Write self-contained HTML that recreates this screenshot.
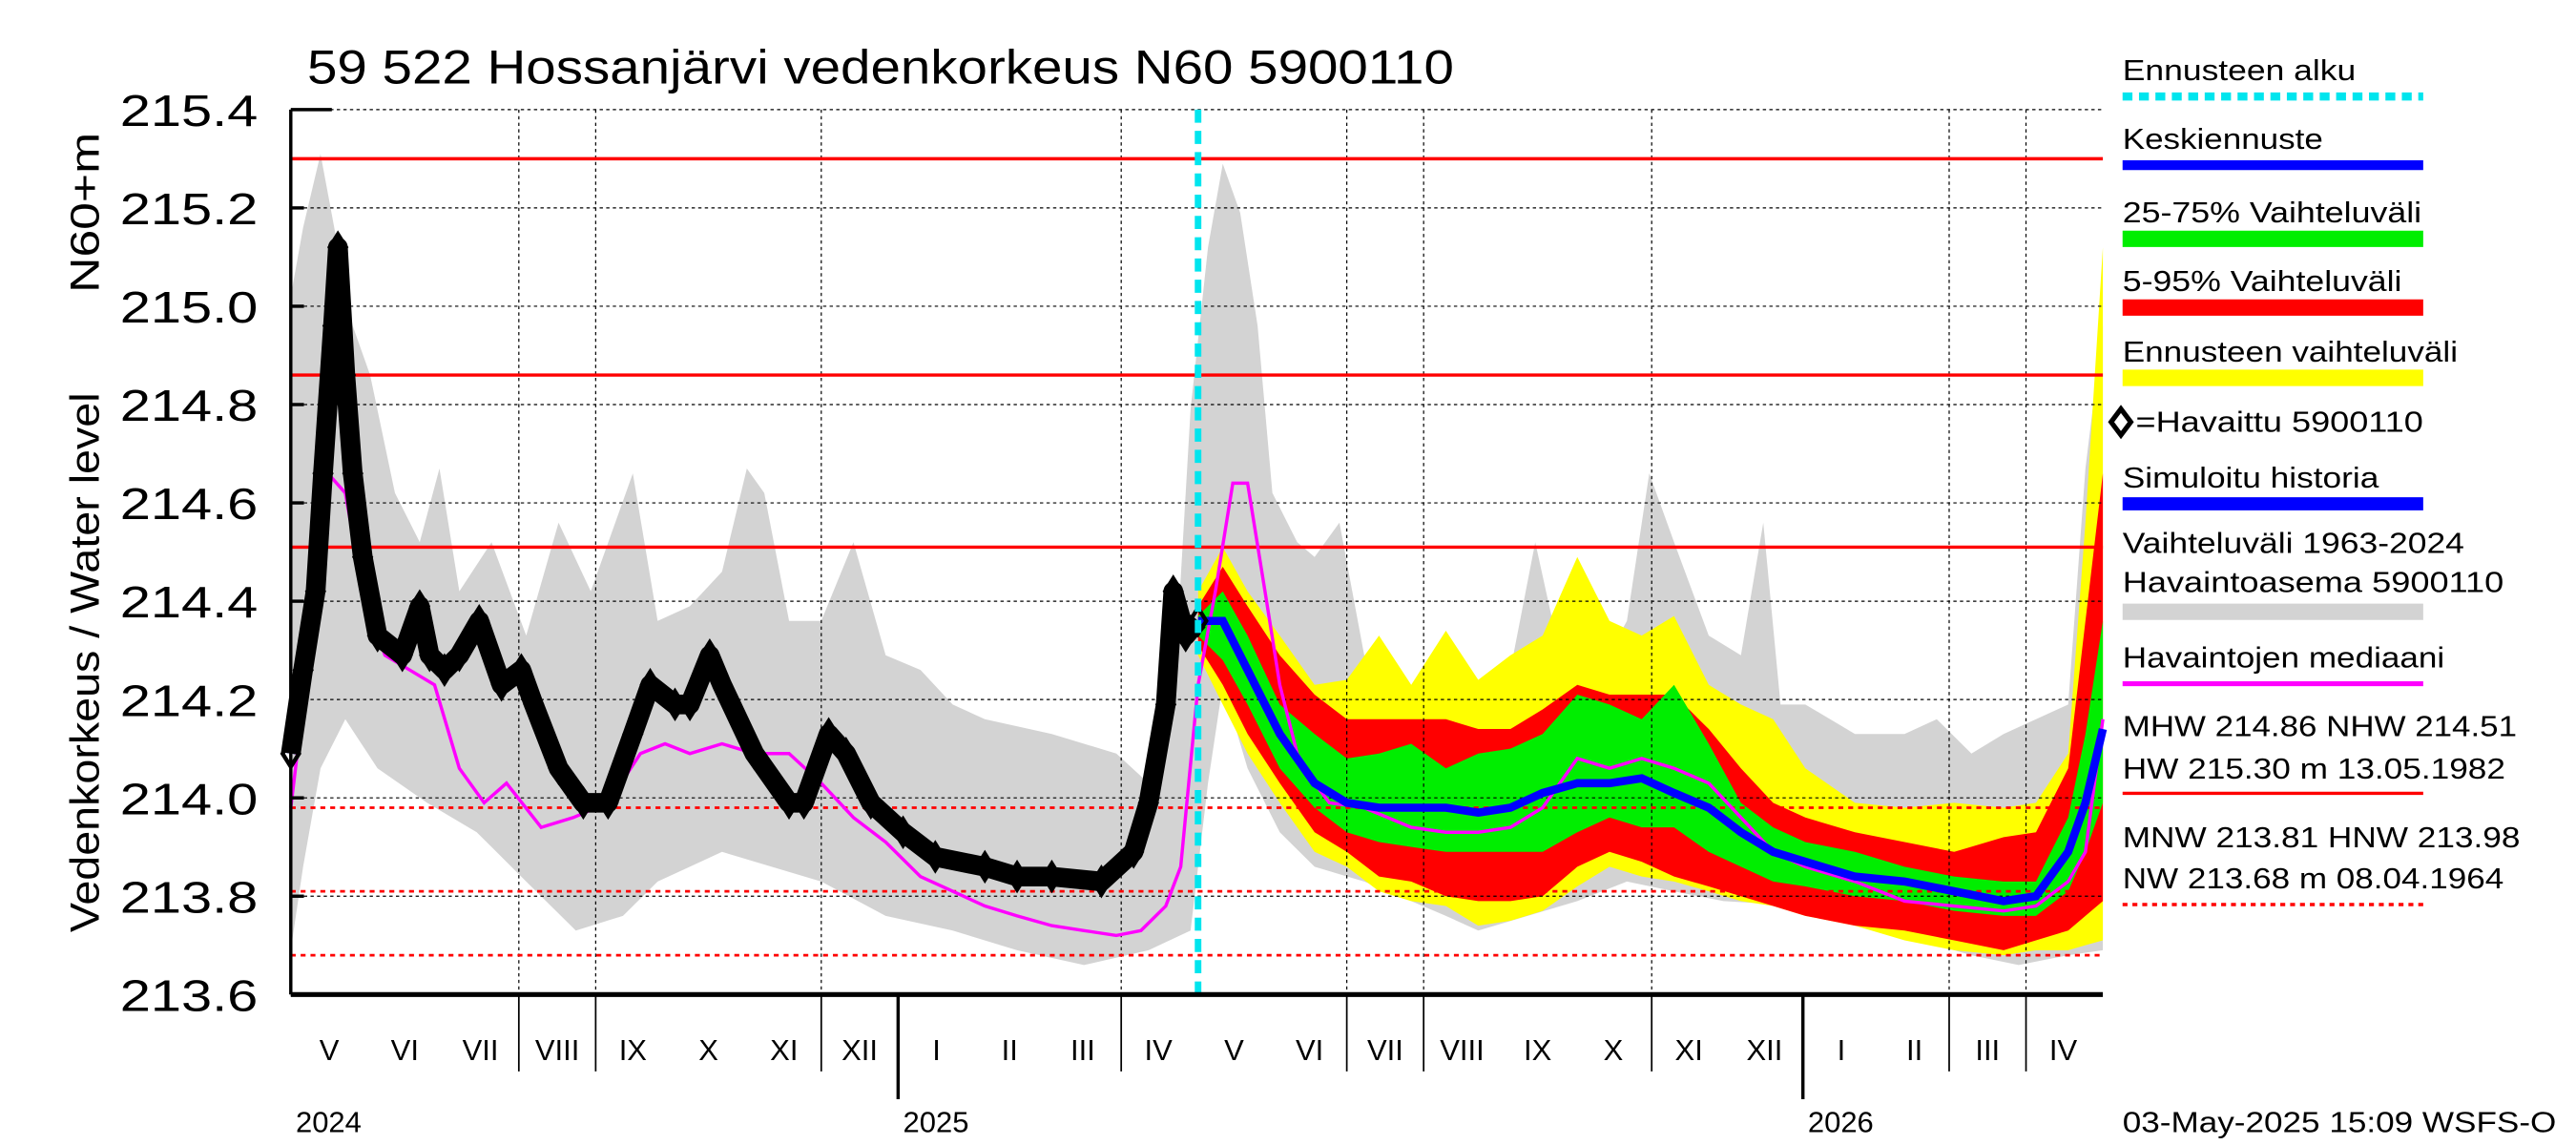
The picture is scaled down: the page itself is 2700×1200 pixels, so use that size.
<!DOCTYPE html>
<html><head><meta charset="utf-8"><style>
html,body{margin:0;padding:0;background:#fff}
svg{display:block}
text{font-family:"Liberation Sans",sans-serif;fill:#000}
</style></head><body>
<svg id="chart" width="2700" height="1200" viewBox="0 0 1568 700" preserveAspectRatio="none" xmlns="http://www.w3.org/2000/svg">
<rect x="0" y="0" width="1568" height="700" fill="#fff"/>
<g id="plot"></g>
<text x="187" y="51" font-size="29" textLength="698" lengthAdjust="spacingAndGlyphs">59 522 Hossanjärvi vedenkorkeus N60 5900110</text>
<text transform="translate(60,405) rotate(-90)" font-size="25" text-anchor="middle" textLength="330" lengthAdjust="spacingAndGlyphs">Vedenkorkeus / Water level</text>
<text transform="translate(60,130) rotate(-90)" font-size="25" text-anchor="middle" textLength="98" lengthAdjust="spacingAndGlyphs">N60+m</text>
<g id="legend"></g>
<text x="1292" y="692" font-size="18" textLength="264" lengthAdjust="spacingAndGlyphs">03-May-2025 15:09 WSFS-O</text>
</svg>
<script>
// x domain: days since 1 May 2024
const yTicks = [213.6, 213.8, 214.0, 214.2, 214.4, 214.6, 214.8, 215.0, 215.2, 215.4];
const yTickLabels = ["213.6","213.8","214.0","214.2","214.4","214.6","214.8","215.0","215.2","215.4"];
const monthLabels = ["V","VI","VII","VIII","IX","X","XI","XII","I","II","III","IV","V","VI","VII","VIII","IX","X","XI","XII","I","II","III","IV"];
const monthStartDays = [0,31,61,92,123,153,184,214,245,276,304,335,365,396,426,457,488,518,549,579,610,641,669,700,730];
const gridDays = [92,123,214,335,426,457,549,669,700];
const yearDays = [245,610];
const yearLabels = ["2024","2025","2026"];
const yearLabelDays = [2,247,612];
const forecastStartDay = 366;
const refSolid = [215.30, 214.86, 214.51];
const refDashed = [213.98, 213.81, 213.68];

const histUpperDays = [0,5,12,19,25,32,42,52,60,68,81,95,108,121,138,148,161,174,184,191,201,214,227,240,254,267,280,307,333,346,356,363,370,376,383,390,396,406,413,423,433,442,452,466,479,492,502,512,525,539,548,558,572,585,594,601,611,631,651,664,678,691,704,717,724,731];
const histUpper = [215.02,215.16,215.31,215.12,214.96,214.86,214.62,214.52,214.67,214.42,214.52,214.33,214.56,214.42,214.66,214.36,214.39,214.46,214.67,214.62,214.36,214.36,214.52,214.29,214.26,214.19,214.16,214.13,214.09,214.03,214.19,214.79,215.12,215.29,215.19,214.96,214.62,214.52,214.49,214.56,214.29,214.23,214.19,214.29,214.19,214.26,214.52,214.29,214.23,214.36,214.66,214.52,214.33,214.29,214.56,214.19,214.19,214.13,214.13,214.16,214.09,214.13,214.16,214.19,214.67,214.96];
const histLowerDays = [0,5,12,22,35,55,75,95,115,134,148,161,174,194,214,240,267,293,320,346,363,370,376,386,399,413,433,452,466,479,499,519,539,558,578,611,644,678,697,717,731];
const histLower = [213.69,213.86,214.06,214.16,214.06,213.99,213.93,213.83,213.73,213.76,213.83,213.86,213.89,213.86,213.83,213.76,213.73,213.69,213.66,213.69,213.73,214.03,214.23,214.06,213.93,213.86,213.83,213.79,213.76,213.73,213.76,213.79,213.83,213.81,213.79,213.78,213.73,213.68,213.66,213.68,213.69];

const medianDays = [0,9,15,22,29,38,48,58,68,78,87,101,114,128,141,151,161,174,187,201,214,227,240,254,267,280,293,307,320,333,343,353,359,366,373,380,386,393,399,406,413,419,433,452,466,479,492,505,519,532,545,558,572,585,598,611,631,651,671,691,704,717,724,731];
const medianVals = [213.98,214.36,214.66,214.62,214.42,214.29,214.26,214.23,214.06,213.99,214.03,213.94,213.96,213.99,214.09,214.11,214.09,214.11,214.09,214.09,214.03,213.96,213.91,213.84,213.81,213.78,213.76,213.74,213.73,213.72,213.73,213.78,213.86,214.23,214.42,214.64,214.64,214.42,214.23,214.09,214.03,213.99,213.98,213.94,213.93,213.93,213.94,213.98,214.08,214.06,214.08,214.06,214.03,213.96,213.89,213.86,213.83,213.79,213.78,213.77,213.78,213.83,213.89,214.16];

const obsDays = [0,5,10,13,17,19,22,25,29,35,45,52,56,62,68,76,85,93,98,108,118,128,138,145,155,161,169,174,187,201,207,217,224,234,247,260,280,293,307,327,340,346,353,356,361,366];
const obsVals = [214.09,214.26,214.42,214.66,214.96,215.12,214.86,214.66,214.49,214.33,214.29,214.39,214.29,214.26,214.29,214.36,214.23,214.26,214.19,214.06,213.99,213.99,214.13,214.23,214.19,214.19,214.29,214.23,214.09,213.99,213.99,214.13,214.09,213.99,213.93,213.88,213.86,213.84,213.84,213.83,213.89,213.99,214.19,214.42,214.33,214.36];

const fcDays = [366,376,386,399,413,426,439,452,466,479,492,505,519,532,545,558,572,585,598,611,631,651,671,691,704,717,724,731];
const fcMedian = [214.36,214.36,214.26,214.13,214.03,213.99,213.98,213.98,213.98,213.97,213.98,214.01,214.03,214.03,214.04,214.01,213.98,213.93,213.89,213.87,213.84,213.83,213.81,213.79,213.80,213.89,213.99,214.14];
const fcP75 = [214.37,214.42,214.33,214.19,214.13,214.08,214.09,214.11,214.06,214.09,214.10,214.13,214.21,214.19,214.16,214.23,214.11,213.99,213.94,213.91,213.89,213.86,213.84,213.83,213.83,213.96,214.13,214.36];
const fcP25 = [214.33,214.28,214.19,214.06,213.98,213.93,213.91,213.90,213.89,213.89,213.89,213.89,213.93,213.96,213.94,213.94,213.89,213.86,213.83,213.82,213.80,213.79,213.77,213.76,213.76,213.81,213.89,213.99];
const fcP95 = [214.39,214.47,214.39,214.29,214.21,214.16,214.16,214.16,214.16,214.14,214.14,214.18,214.23,214.21,214.21,214.21,214.14,214.06,213.99,213.96,213.93,213.91,213.89,213.92,213.93,214.06,214.36,214.66];
const fcP05 = [214.31,214.23,214.13,214.03,213.93,213.89,213.84,213.83,213.80,213.79,213.79,213.80,213.86,213.89,213.87,213.84,213.82,213.80,213.78,213.76,213.74,213.73,213.71,213.69,213.71,213.73,213.76,213.79];
const fcMax = [214.42,214.51,214.42,214.33,214.23,214.24,214.33,214.23,214.34,214.24,214.29,214.33,214.49,214.36,214.33,214.37,214.23,214.19,214.16,214.06,213.99,213.98,213.99,213.98,213.99,214.09,214.56,215.12];
const fcMin = [214.29,214.19,214.09,213.99,213.89,213.86,213.81,213.79,213.78,213.74,213.75,213.77,213.82,213.86,213.84,213.83,213.81,213.79,213.78,213.76,213.74,213.71,213.69,213.68,213.69,213.69,213.70,213.71];

const X0 = 177, X1 = 1280, Y0 = 608, Y1 = 67;
const D0 = 0, D1 = 731, V0 = 213.6, V1 = 215.4;
function xs(d){ return X0 + (d - D0) / (D1 - D0) * (X1 - X0); }
function ys(v){ return Y0 - (v - V0) / (V1 - V0) * (Y0 - Y1); }
const NS = "http://www.w3.org/2000/svg";
const plot = document.getElementById('plot');
const legend = document.getElementById('legend');
function mk(tag, attrs, parent){
  const e = document.createElementNS(NS, tag);
  for (const k in attrs) e.setAttribute(k, attrs[k]);
  (parent || plot).appendChild(e);
  return e;
}
function linePts(days, vals){ return days.map((d,i)=>xs(d).toFixed(1)+","+ys(vals[i]).toFixed(1)).join(" "); }
function bandPts(du, vu, dl, vl){
  const a = du.map((d,i)=>xs(d).toFixed(1)+","+ys(vu[i]).toFixed(1));
  const b = dl.map((d,i)=>xs(d).toFixed(1)+","+ys(vl[i]).toFixed(1)).reverse();
  return a.concat(b).join(" ");
}

let e = mk('polygon', {points: bandPts(histUpperDays, histUpper, histLowerDays, histLower), fill:'#d3d3d3'});



e = mk('polygon', {points: bandPts(fcDays, fcMax, fcDays, fcMin), fill:'#ffff00'});


e = mk('polygon', {points: bandPts(fcDays, fcP95, fcDays, fcP05), fill:'#ff0000'});


e = mk('polygon', {points: bandPts(fcDays, fcP75, fcDays, fcP25), fill:'#00ee00'});



yTicks.forEach((v,i)=>{
  if (i===0) return;
  const g = mk('line', {x1:X0, x2:X1, y1:ys(v), y2:ys(v), stroke:'#000', 'stroke-width':0.7, 'stroke-dasharray':'2,2'});
  
  
});
gridDays.forEach(d=>{
  const g = mk('line', {x1:xs(d), x2:xs(d), y1:Y1, y2:Y0, stroke:'#000', 'stroke-width':0.7, 'stroke-dasharray':'2,2'});
  
  
  const t = mk('line', {x1:xs(d), x2:xs(d), y1:Y0, y2:655, stroke:'#000', 'stroke-width':1});
  
  
});
yearDays.forEach(d=>{
  const t = mk('line', {x1:xs(d), x2:xs(d), y1:Y0, y2:672, stroke:'#000', 'stroke-width':2});
  
  
});

refSolid.forEach(v=>{
  const l = mk('line', {x1:X0, x2:X1, y1:ys(v), y2:ys(v), stroke:'#ff0000', 'stroke-width':2});
  
  
});
refDashed.forEach(v=>{
  const l = mk('line', {x1:X0, x2:X1, y1:ys(v), y2:ys(v), stroke:'#ff0000', 'stroke-width':1.6, 'stroke-dasharray':'3,3'});
  
  
});

e = mk('polyline', {points: linePts(medianDays, medianVals), fill:'none', stroke:'#ff00ff', 'stroke-width':2});



e = mk('polyline', {points: linePts(fcDays, fcMedian), fill:'none', stroke:'#0000ff', 'stroke-width':5});



e = mk('polyline', {points: linePts(obsDays, obsVals), fill:'none', stroke:'#0000ff', 'stroke-width':6, 'stroke-linejoin':'round'});


e = mk('polyline', {points: linePts(obsDays, obsVals), fill:'none', stroke:'#000', 'stroke-width':12, 'stroke-linejoin':'round'});


obsDays.forEach((d,i)=>{
  const cx = xs(d), cy = ys(obsVals[i]);
  const p = mk('polygon', {points:`${cx},${cy-8} ${cx+5},${cy} ${cx},${cy+8} ${cx-5},${cy}`, fill:'none', stroke:'#000', 'stroke-width':2.5});
  
  
});

e = mk('line', {x1:xs(forecastStartDay), x2:xs(forecastStartDay), y1:Y1, y2:Y0, stroke:'#00e5ee', 'stroke-width':4, 'stroke-dasharray':'8,5'});



e = mk('line', {x1:X0, x2:X0, y1:Y1, y2:Y0, stroke:'#000', 'stroke-width':2});


e = mk('line', {x1:X0, x2:X1, y1:Y0, y2:Y0, stroke:'#000', 'stroke-width':3});


yTicks.forEach((v,i)=>{
  const t = mk('line', {x1:X0, x2:X0+(i===yTicks.length-1?25:8), y1:ys(v), y2:ys(v), stroke:'#000', 'stroke-width':2});
  
  
  const l = mk('text', {x:157, y:ys(v)+10, 'font-size':27, 'text-anchor':'end', textLength:84, lengthAdjust:'spacingAndGlyphs'});
  l.textContent = yTickLabels[i];
  
  
});
monthLabels.forEach((m,i)=>{
  const cx = (xs(monthStartDays[i]) + xs(monthStartDays[i+1]))/2;
  const t = mk('text', {x:cx, y:648, 'font-size':18, 'text-anchor':'middle'});
  t.textContent = m;
  
  
});
yearLabels.forEach((y,i)=>{
  const t = mk('text', {x:xs(yearLabelDays[i]), y:692, 'font-size':18});
  t.textContent = y;
  
  
});

const LX = 1292, LW = 183;
function ltext(str, y, len){
  const t = mk('text', {x:LX, y:y, 'font-size':18, textLength:len, lengthAdjust:'spacingAndGlyphs'}, legend);
  t.textContent = str;
  
  
}
function lline(y, color, w, dash){
  const a = {x1:LX, x2:LX+LW, y1:y, y2:y, stroke:color, 'stroke-width':w};
  if (dash) a['stroke-dasharray'] = dash;
  const l = mk('line', a, legend);
  
  
}
ltext("Ennusteen alku", 49, 142); lline(59, '#00e5ee', 5, '6,4');
ltext("Keskiennuste", 91, 122); lline(101, '#0000ff', 6);
ltext("25-75% Vaihteluväli", 136, 182); lline(146, '#00ee00', 10);
ltext("5-95% Vaihteluväli", 178, 170); lline(188, '#ff0000', 10);
ltext("Ennusteen vaihteluväli", 221, 204); lline(231, '#ffff00', 10);
e = mk('polygon', {points:`1291,250 1297,258 1291,266 1285,258`, fill:'none', stroke:'#000', 'stroke-width':3}, legend);


e = mk('text', {x:1300, y:264, 'font-size':18, textLength:175, lengthAdjust:'spacingAndGlyphs'}, legend);
e.textContent = "=Havaittu 5900110";


ltext("Simuloitu historia", 298, 156); lline(308, '#0000ff', 8);
ltext("Vaihteluväli 1963-2024", 338, 208);
ltext(" Havaintoasema 5900110", 362, 232); lline(374, '#d3d3d3', 10);
ltext("Havaintojen mediaani", 408, 196); lline(418, '#ff00ff', 3);
ltext("MHW 214.86 NHW 214.51", 450, 240);
ltext("HW 215.30 m 13.05.1982", 476, 233); lline(485, '#ff0000', 2);
ltext("MNW 213.81 HNW 213.98", 518, 242);
ltext("NW 213.68 m 08.04.1964", 543, 232); lline(553, '#ff0000', 2, '3,3');
</script>
</body></html>
